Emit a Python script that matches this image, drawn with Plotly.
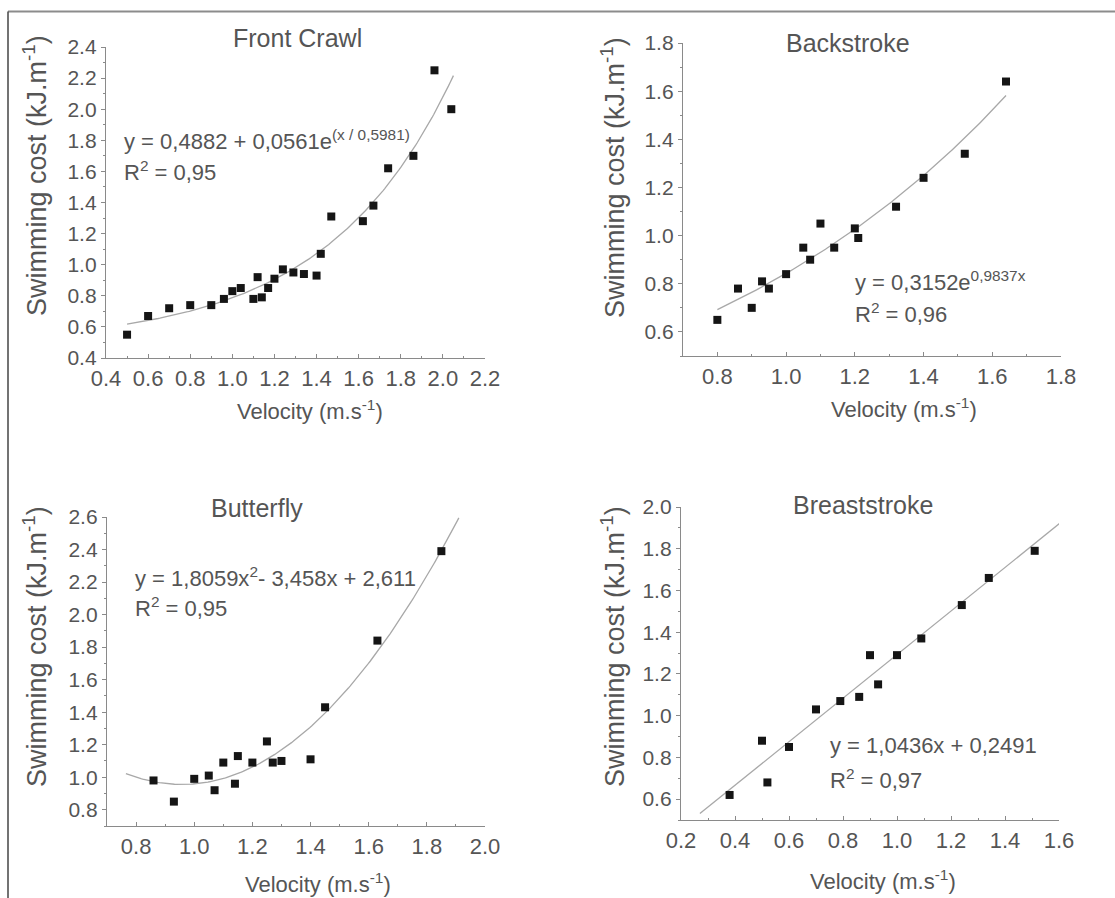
import numpy as np
import plotly.graph_objects as go

W, H = 1115, 898

# ---------------- data ----------------
fc_x = [0.50, 0.60, 0.70, 0.80, 0.90, 0.96, 1.00, 1.04, 1.10, 1.12, 1.14, 1.17, 1.20,
        1.24, 1.29, 1.34, 1.40, 1.42, 1.47, 1.62, 1.67, 1.74, 1.86, 1.96, 2.04]
fc_y = [0.55, 0.67, 0.72, 0.74, 0.74, 0.78, 0.83, 0.85, 0.78, 0.92, 0.79, 0.85, 0.91,
        0.97, 0.95, 0.94, 0.93, 1.07, 1.31, 1.28, 1.38, 1.62, 1.70, 2.25, 2.00]
fc_coef = [0.4882, 0.0561, 0.5981]          # y = a + b*exp(x/c)
fc_fit_range = [0.50, 2.05]

bk_x = [0.80, 0.86, 0.90, 0.93, 0.95, 1.00, 1.05, 1.07, 1.10, 1.14, 1.20, 1.21, 1.32, 1.40, 1.52, 1.64]
bk_y = [0.65, 0.78, 0.70, 0.81, 0.78, 0.84, 0.95, 0.90, 1.05, 0.95, 1.03, 0.99, 1.12, 1.24, 1.34, 1.64]
bk_coef = [0.3152, 0.9837]                  # y = a*exp(b*x)
bk_fit_range = [0.80, 1.64]

bf_x = [0.86, 0.93, 1.00, 1.05, 1.07, 1.10, 1.14, 1.15, 1.20, 1.25, 1.27, 1.30, 1.40, 1.45, 1.63, 1.85]
bf_y = [0.98, 0.85, 0.99, 1.01, 0.92, 1.09, 0.96, 1.13, 1.09, 1.22, 1.09, 1.10, 1.11, 1.43, 1.84, 2.39]
bf_coef = [1.8059, -3.458, 2.611]           # y = a*x^2 + b*x + c
bf_fit_range = [0.765, 1.91]

br_x = [0.38, 0.50, 0.52, 0.60, 0.70, 0.79, 0.86, 0.90, 0.93, 1.00, 1.09, 1.24, 1.34, 1.51]
br_y = [0.62, 0.88, 0.68, 0.85, 1.03, 1.07, 1.09, 1.29, 1.15, 1.29, 1.37, 1.53, 1.66, 1.79]
br_coef = [1.0436, 0.2491]                  # y = a*x + b
br_fit_range = [0.27, 1.62]

titles = ["Front Crawl", "Backstroke", "Butterfly", "Breaststroke"]
equations = ["y = 0,4882 + 0,0561e<sup>(x / 0,5981)</sup>",
             "y = 0,3152e<sup>0,9837x</sup>",
             "y = 1,8059x<sup>2</sup>- 3,458x + 2,611",
             "y = 1,0436x + 0,2491"]
r2_labels = ["R<sup>2</sup> = 0,95", "R<sup>2</sup> = 0,96", "R<sup>2</sup> = 0,95", "R<sup>2</sup> = 0,97"]
x_title = "Velocity (m.s<sup>-1</sup>)"
y_title = "Swimming cost (kJ.m<sup>-1</sup>)"

x_ranges = [[0.4, 2.2], [0.7, 1.8], [0.7, 2.0], [0.2, 1.6]]
y_ranges = [[0.4, 2.4], [0.5, 1.8], [0.7, 2.6], [0.5, 2.0]]
x_tick0 = [0.4, 0.8, 0.8, 0.2]
y_tick0 = [0.4, 0.6, 0.8, 0.6]

# ---------------- layout geometry (pixels) ----------------
panels_px = [  # left, right, top, bottom
    (106, 485, 47, 358),
    (683, 1061, 43, 356),
    (107, 485, 517, 826),
    (681, 1059, 507, 820),
]
title_pos = [(297, 38), (848, 43), (257, 508), (863, 505)]
xt_pos = [(310, 410), (904, 408), (318, 883), (883, 880)]
yt_pos = [(35, 176), (613, 178), (35, 647), (613, 647)]
eq_pos = [(122, 140), (853, 281), (133, 577), (828, 745)]
r2_pos = [(122, 171), (853, 313), (133, 607), (828, 779)]

FONT = "Liberation Sans, Arial, sans-serif"
TXT = "#555555"
AX = "#8a8a8a"

def px(x):
    return x / W

def py(y):
    return 1 - y / H

fig = go.Figure()

fits = []
xs = np.linspace(fc_fit_range[0], fc_fit_range[1], 200)
fits.append((xs, fc_coef[0] + fc_coef[1] * np.exp(xs / fc_coef[2])))
xs = np.linspace(bk_fit_range[0], bk_fit_range[1], 200)
fits.append((xs, bk_coef[0] * np.exp(bk_coef[1] * xs)))
xs = np.linspace(bf_fit_range[0], bf_fit_range[1], 200)
fits.append((xs, bf_coef[0] * xs ** 2 + bf_coef[1] * xs + bf_coef[2]))
xs = np.linspace(br_fit_range[0], br_fit_range[1], 2)
fits.append((xs, br_coef[0] * xs + br_coef[1]))

pts = [(fc_x, fc_y), (bk_x, bk_y), (bf_x, bf_y), (br_x, br_y)]

annotations = []
for i in range(4):
    ax_suffix = "" if i == 0 else str(i + 1)
    xa, ya = "x" + ax_suffix, "y" + ax_suffix
    fx, fy = fits[i]
    fig.add_trace(go.Scatter(x=fx, y=fy, mode="lines", xaxis=xa, yaxis=ya,
                             line=dict(color="#a8a8a8", width=1.3), showlegend=False,
                             hoverinfo="skip"))
    fig.add_trace(go.Scatter(x=pts[i][0], y=pts[i][1], mode="markers", xaxis=xa, yaxis=ya,
                             marker=dict(symbol="square", size=8, color="#151515"),
                             showlegend=False, cliponaxis=False))
    l, r, t, b = panels_px[i]
    common = dict(showline=True, linecolor=AX, linewidth=1.3, showgrid=False, zeroline=False,
                  tickcolor=AX, ticklen=4, tickwidth=1.2)
    fig.layout["xaxis" + ax_suffix] = dict(
        domain=[px(l), px(r)], range=x_ranges[i], anchor=ya,
        tick0=x_tick0[i], dtick=0.2, tickformat=".1f", ticks="inside",
        tickfont=dict(family=FONT, size=22, color=TXT),
        minor=dict(ticks="inside", ticklen=2, dtick=0.1, tickcolor=AX, tickwidth=1),
        **common)
    fig.layout["yaxis" + ax_suffix] = dict(
        domain=[py(b), py(t)], range=y_ranges[i], anchor=xa,
        tick0=y_tick0[i], dtick=0.2, tickformat=".1f", ticks="outside",
        tickfont=dict(family=FONT, size=21, color=TXT),
        minor=dict(ticks="outside", ticklen=2, dtick=0.1, tickcolor=AX, tickwidth=1),
        **common)

    annotations.append(dict(text=titles[i], x=px(title_pos[i][0]), y=py(title_pos[i][1]),
                            xref="paper", yref="paper", showarrow=False,
                            xanchor="center", yanchor="middle",
                            font=dict(family=FONT, size=25, color=TXT)))
    annotations.append(dict(text=x_title, x=px(xt_pos[i][0]), y=py(xt_pos[i][1]),
                            xref="paper", yref="paper", showarrow=False,
                            xanchor="center", yanchor="middle",
                            font=dict(family=FONT, size=22, color=TXT)))
    annotations.append(dict(text=y_title, x=px(yt_pos[i][0]), y=py(yt_pos[i][1]),
                            xref="paper", yref="paper", showarrow=False, textangle=-90,
                            xanchor="center", yanchor="middle",
                            font=dict(family=FONT, size=27, color=TXT)))
    annotations.append(dict(text=equations[i], x=px(eq_pos[i][0]), y=py(eq_pos[i][1]),
                            xref="paper", yref="paper", showarrow=False,
                            xanchor="left", yanchor="middle",
                            font=dict(family=FONT, size=22, color=TXT)))
    annotations.append(dict(text=r2_labels[i], x=px(r2_pos[i][0]), y=py(r2_pos[i][1]),
                            xref="paper", yref="paper", showarrow=False,
                            xanchor="left", yanchor="middle",
                            font=dict(family=FONT, size=22, color=TXT)))

shapes = [
    dict(type="line", xref="paper", yref="paper", x0=px(8), x1=1, y0=py(11.5), y1=py(11.5),
         line=dict(color="#8c8c8c", width=2)),
    dict(type="line", xref="paper", yref="paper", x0=px(8), x1=px(8), y0=py(11.5), y1=0,
         line=dict(color="#444444", width=1.5)),
]

fig.update_layout(width=W, height=H,
                  margin=dict(l=0, r=0, t=0, b=0, pad=0, autoexpand=False),
                  paper_bgcolor="white", plot_bgcolor="white",
                  annotations=annotations, shapes=shapes, showlegend=False)

fig.write_html("out.html", config={"displayModeBar": False},
               post_script="document.body.style.margin='0';document.body.style.overflow='hidden';")
